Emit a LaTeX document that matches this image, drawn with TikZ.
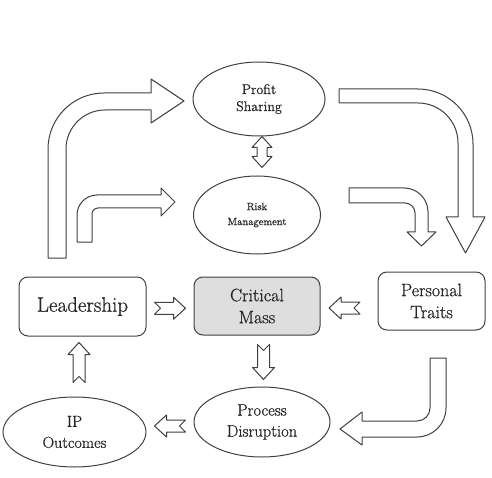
\documentclass[tikz,border=0pt]{standalone}
\usepackage{fontspec}
\setmainfont{Latin Modern Roman}[FakeBold=0.7]
\usetikzlibrary{shapes.geometric,calc}
\tikzset{
  strk/.style={draw=black!75, line width=1pt, line join=round},
  blockarrow/.style={strk, fill=white},
  boxnode/.style={strk, rounded corners=9pt, align=center, inner sep=0pt, text=black!85},
  ellnode/.style={strk, ellipse, align=center, inner sep=0pt, text=black!85},
  pics/narrow/.style={code={\draw[blockarrow] (-#1/2,6) -- (#1/2-12,6) -- (#1/2-12,11) -- (#1/2,0) -- (#1/2-12,-11) -- (#1/2-12,-6) -- (-#1/2,-6) -- (-#1/2+6,0) -- cycle;}},
  pics/dblarrow/.style={code={\draw[blockarrow] (0,-15.5) -- (10,-4.5) -- (5,-4.5) -- (5,4.5) -- (10,4.5) -- (0,15.5) -- (-10,4.5) -- (-5,4.5) -- (-5,-4.5) -- (-10,-4.5) -- cycle;}},
}
\begin{document}
\begin{tikzpicture}[x=1pt,y=-1pt]
\useasboundingbox (0,0) rectangle (492,478);
% nodes
\node[ellnode, minimum width=132pt, minimum height=74pt, font=\fontsize{14}{17}\selectfont] (ps) at (259,99) {Profit\\Sharing};
\node[ellnode, minimum width=127pt, minimum height=78pt, font=\fontsize{10.5}{15}\selectfont] (rm) at (257,215) {Risk\\Management};
\node[boxnode, minimum width=127pt, minimum height=59pt, font=\fontsize{21}{24}\selectfont] (lead) at (82.5,306.5) {Leadership};
\node[boxnode, fill=black!13, minimum width=126pt, minimum height=58pt, font=\fontsize{18}{22}\selectfont] (crit) at (257,306) {Critical\\Mass};
\node[boxnode, minimum width=107pt, minimum height=58pt, font=\fontsize{18}{22}\selectfont] (pt) at (431.5,301) {Personal\\Traits};
\node[ellnode, minimum width=136pt, minimum height=70pt, font=\fontsize{16.5}{21}\selectfont] (pd) at (262,422) {Process\\Disruption};
\node[ellnode, minimum width=143pt, minimum height=70pt, font=\fontsize{16}{21}\selectfont] (ipo) at (74.5,432) {IP\\Outcomes};
% small notched arrows
\pic at ($(lead.east)!0.5!(crit.west)+(0,2)$) {narrow=31};
\pic[rotate=180] at ($(crit.east)+(24,2)$) {narrow=31};
\pic[rotate=-90] at ($(crit.south)!0.5!(pd.north)+(4,1)$) {narrow=35};
\pic[rotate=90] at ($(ipo.north)!0.5!(lead.south)+(0.5,-4)$) {narrow=40};
\pic[rotate=180] at ($(pd.west)!0.5!(ipo.east)+(0,-1)$) {narrow=31};
\pic at ($(ps.south)+(3,15.5)$) {dblarrow};
% big bent arrows
\draw[blockarrow] (48,258) -- (48,149) .. controls (48,118.1) and (73.1,93) .. (104,93) -- (151,93) -- (151,79) -- (184,101) -- (151,123) -- (151,110) -- (105,110) .. controls (83.5,110) and (66,127.5) .. (66,149) -- (66,258) -- cycle;
\draw[blockarrow] (77,242) -- (77,215) .. controls (77,204) and (86,195) .. (97,195) -- (161,195) -- (161,188) -- (175,202) -- (161,216) -- (161,208) -- (98,208) .. controls (94.7,208) and (92,210.7) .. (92,214) -- (92,242) -- cycle;
\draw[blockarrow] (339,89) -- (418,89) .. controls (448.4,89) and (473,113.6) .. (473,144) -- (473,217) -- (485,217) -- (465.5,253) -- (446,217) -- (458,217) -- (458,143) .. controls (458,120.9) and (440.1,103) .. (418,103) -- (339,103) -- cycle;
\draw[blockarrow] (349,188) -- (404,188) .. controls (417.3,188) and (428,198.7) .. (428,212) -- (428,232) -- (436,232) -- (421.5,246) -- (407,232) -- (415,232) -- (415,213) .. controls (415,207.5) and (410.5,203) .. (405,203) -- (349,203) -- cycle;
\draw[blockarrow] (430,358) -- (446,358) -- (446,408) .. controls (446,424) and (433,437) .. (417,437) -- (362,437) -- (362,445) -- (340,429) -- (362,412) -- (362,421) -- (417,421) .. controls (424.2,421) and (430,415.2) .. (430,408) -- cycle;
\end{tikzpicture}
\end{document}
